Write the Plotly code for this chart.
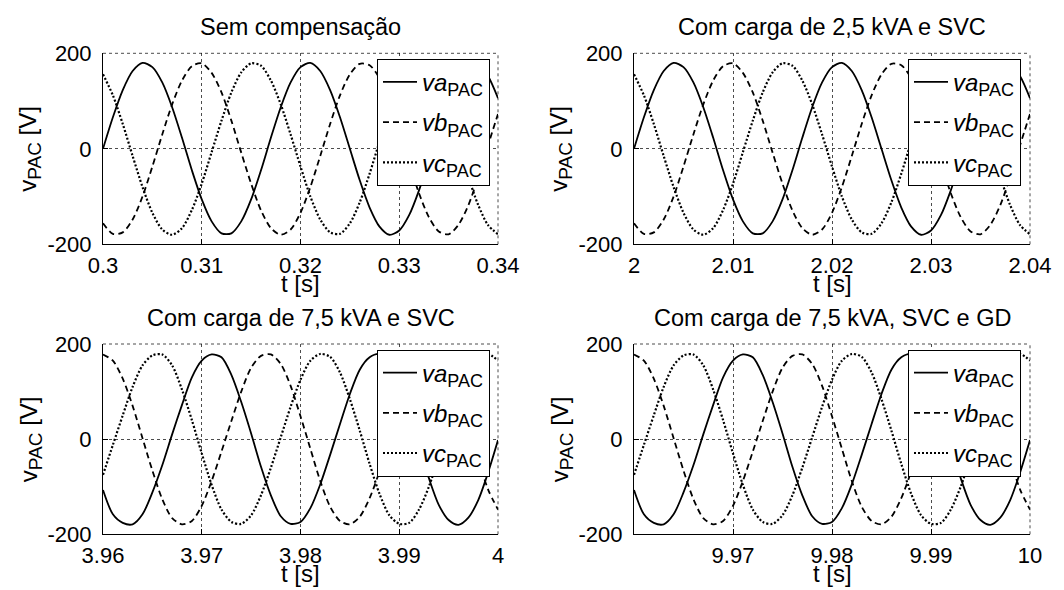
import plotly.graph_objects as go

# ---------------- data ----------------
titles = ["Sem compensação", "Com carga de 2,5 kVA e SVC",
          "Com carga de 7,5 kVA e SVC", "Com carga de 7,5 kVA, SVC e GD"]
t_start = [0.30, 2.00, 3.96, 9.96]
t_end = [0.34, 2.04, 4.00, 10.00]
x_tickvals = [[0.30, 0.31, 0.32, 0.33, 0.34],
              [2.00, 2.01, 2.02, 2.03, 2.04],
              [3.96, 3.97, 3.98, 3.99, 4.00],
              [9.97, 9.98, 9.99, 10.00]]
x_ticktext = [["0.3", "0.31", "0.32", "0.33", "0.34"],
              ["2", "2.01", "2.02", "2.03", "2.04"],
              ["3.96", "3.97", "3.98", "3.99", "4"],
              ["9.97", "9.98", "9.99", "10"]]
y_tickvals = [-200, 0, 200]
y_ticktext = ["-200", "0", "200"]

# sample offsets (ms) from the start of each window
t_ms = list(range(41))

# upper panels (identical shapes in both)
va_top = [0, 66, 123, 163, 180, 171, 139, 87, 23, -45, -106, -152, -177, -177, -152, -106, -45, 23, 87, 139,
          171, 180, 163, 123, 66, 0, -66, -123, -163, -180, -171, -139, -87, -23, 45, 106, 152, 177, 177, 152, 106]
vb_top = [-156, -178, -175, -148, -100, -37, 30, 93, 143, 173, 179, 159, 118, 59, -8, -73, -129, -166, -180, -169,
          -134, -80, -15, 52, 112, 156, 178, 175, 148, 100, 37, -30, -93, -143, -173, -179, -159, -118, -59, 8, 73]
vc_top = [156, 112, 52, -15, -80, -134, -169, -180, -166, -128, -73, -7, 59, 118, 160, 179, 174, 143, 93, 30,
          -37, -100, -148, -175, -178, -156, -112, -52, 15, 80, 134, 169, 180, 166, 128, 73, 7, -59, -118, -160, -179]

# lower panels (identical shapes in both)
va_bot = [-107, -158, -176, -179, -158, -112, -55, 10, 72, 130, 165, 178, 172, 135, 78, 12, -58, -118, -162, -178,
          -174, -145, -95, -33, 32, 95, 146, 172, 179, 163, 118, 55, -14, -82, -138, -170, -180, -165, -128, -70, -2]
vb_bot = [178, 165, 127, 70, 2, -66, -126, -166, -179, -172, -140, -88, -26, 38, 100, 150, 175, 178, 158, 112,
          48, -20, -88, -142, -172, -179, -163, -124, -68, -4, 60, 118, 160, 178, 175, 146, 92, 26, -42, -106, -148]
vc_bot = [-75, -12, 50, 110, 155, 176, 178, 155, 104, 40, -30, -96, -148, -174, -178, -160, -118, -60, 4, 68,
          125, 165, 179, 173, 140, 84, 18, -52, -115, -160, -178, -176, -148, -100, -38, 26, 90, 142, 172, 179, 165]

SUB = "<sub><span style='font-size:18px'>PAC</span></sub>"
series_names = ["<i>va</i>" + SUB, "<i>vb</i>" + SUB, "<i>vc</i>" + SUB]
panel_data = [(va_top, vb_top, vc_top), (va_top, vb_top, vc_top),
              (va_bot, vb_bot, vc_bot), (va_bot, vb_bot, vc_bot)]

# ---------------- styling ----------------
W, H = 1064, 590
FONT = "Liberation Sans, Arial, sans-serif"
GRID = "rgba(0,0,0,0.7)"
styles = [dict(color="black", width=1.8, dash="solid"),
          dict(color="black", width=1.8, dash="6px,4px"),
          dict(color="black", width=2.2, dash="2px,2px")]

# pixel boxes of the four plot areas: (left, right, top, bottom)
boxes = [(103, 498, 53.3, 244.3), (634, 1030, 53.3, 244.3),
         (103, 498, 344, 534.3), (634, 1030, 344, 534.3)]

fig = go.Figure()
layout = dict(width=W, height=H, margin=dict(l=0, r=0, t=0, b=0, autoexpand=False),
              paper_bgcolor="white", plot_bgcolor="white",
              font=dict(family=FONT, size=22, color="black"),
              showlegend=True, annotations=[], shapes=[])

for p in range(4):
    sfx = "" if p == 0 else str(p + 1)
    xs = [t_start[p] + m / 1000 for m in t_ms]
    leg = "legend" if p == 0 else "legend" + str(p + 1)
    for s in range(3):
        fig.add_trace(go.Scatter(
            x=xs, y=panel_data[p][s], mode="lines", name=series_names[s],
            line=dict(shape="spline", smoothing=0.8, **styles[s]),
            xaxis="x" + sfx, yaxis="y" + sfx, legend=leg,
            legendgroup="g%d_%d" % (p, s), hoverinfo="skip"))
    l, r, t, b = boxes[p]
    common = dict(showline=True, linecolor="black", linewidth=1, mirror=False,
                  ticks="inside", ticklen=5, tickcolor="black", tickwidth=1,
                  showgrid=True, gridcolor=GRID, gridwidth=1, griddash="dot",
                  zeroline=False, automargin=False,
                  tickfont=dict(family=FONT, size=22, color="black"))
    layout["xaxis" + sfx] = dict(domain=[l / W, r / W], anchor="y" + sfx,
                                 range=[t_start[p], t_end[p]],
                                 tickmode="array", tickvals=x_tickvals[p], ticktext=x_ticktext[p],
                                 ticklabelstandoff=1, **common)
    layout["yaxis" + sfx] = dict(domain=[1 - b / H, 1 - t / H], anchor="x" + sfx,
                                 range=[-200, 200],
                                 tickmode="array", tickvals=y_tickvals, ticktext=y_ticktext,
                                 ticklabelstandoff=6, **common)
    layout[leg] = dict(x=(l + 274) / W, y=1 - (t + 5.5) / H, xanchor="left", yanchor="top",
                       xref="paper", yref="paper",
                       bgcolor="white", bordercolor="black", borderwidth=1,
                       font=dict(family=FONT, size=24, color="black"),
                       tracegroupgap=6, itemwidth=34)
    # dotted top and right borders (grid at the range ends, as in the reference)
    layout["shapes"] += [
        dict(type="line", xref="x" + sfx + " domain", yref="y" + sfx + " domain",
             x0=0, x1=1, y0=1, y1=1, line=dict(color=GRID, width=1, dash="dot"), layer="below"),
        dict(type="line", xref="x" + sfx + " domain", yref="y" + sfx + " domain",
             x0=1, x1=1, y0=0, y1=1, line=dict(color=GRID, width=1, dash="dot"), layer="below"),
    ]
    cx = (l + r) / 2
    layout["annotations"] += [
        dict(text=titles[p], x=cx / W, y=1 - (t - 26) / H, xref="paper", yref="paper",
             xanchor="center", yanchor="middle", showarrow=False,
             font=dict(family=FONT, size=23.5, color="black")),
        dict(text="t [s]", x=cx / W, y=1 - (b + 39) / H, xref="paper", yref="paper",
             xanchor="center", yanchor="middle", showarrow=False,
             font=dict(family=FONT, size=24, color="black")),
        dict(text="v<sub><span style='font-size:19px'>PAC</span></sub> [V]",
             x=(l - 73) / W, y=1 - ((t + b) / 2) / H,
             xref="paper", yref="paper", xanchor="center", yanchor="middle",
             textangle=-90, showarrow=False,
             font=dict(family=FONT, size=24, color="black")),
    ]

fig.update_layout(**layout)
fig.write_html("out.html")
